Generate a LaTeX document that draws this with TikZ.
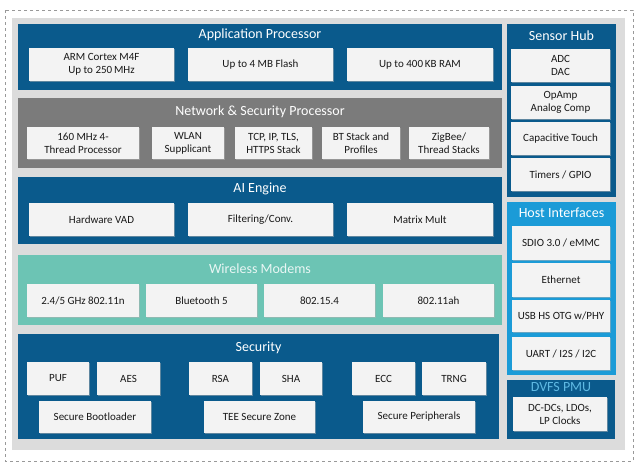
\documentclass[tikz,border=0pt]{standalone}
\usepackage{fontspec}
\setmainfont{Carlito}
\usepackage{tikz}
\usetikzlibrary{shadows}

\definecolor{darkblue}{HTML}{0A5A8C}
\definecolor{nspgray}{HTML}{7B7B7B}
\definecolor{teal}{HTML}{6CC4B4}
\definecolor{hostblue}{HTML}{1B9BD7}
\definecolor{bggray}{HTML}{DCDCDC}
\definecolor{boxgray}{HTML}{F3F3F3}

\begin{document}
\begin{tikzpicture}[x=1pt, y=-1pt,
    block/.style={rectangle, inner sep=0pt},
    title/.style={text=white, font=\fontsize{14}{15}\selectfont},
    unit/.style={rectangle, fill=boxgray, inner sep=0pt, align=center,
        text=black!90, font=\fontsize{11}{13}\selectfont,
        drop shadow={shadow xshift=1pt, shadow yshift=-1pt, fill=black!30}}]
    \useasboundingbox (0,0) rectangle (640,467);
    % frame and background
    \draw[black!40, dashed, line width=0.8pt] (5,10) rectangle (633,461);
    \fill[bggray] (12,18) rectangle (625,450);
    % application processor
    \node[block, fill=darkblue, minimum width=484, minimum height=66] (ap) at (260,57) {};
    \node[title] (apt) at (260,35) {Application Processor};
    \node[unit, minimum width=145, minimum height=33] (arm) at (101.5,64.5) {ARM Cortex M4F\\Up to 250\,MHz};
    \node[unit, minimum width=145, minimum height=33] (flash) at (260.5,64.5) {Up to 4 MB Flash};
    \node[unit, minimum width=146, minimum height=33] (ram) at (420,64.5) {Up to 400\,KB RAM};
    % network & security processor
    \node[block, fill=nspgray, minimum width=484, minimum height=70] (nsp) at (260,133) {};
    \node[title] (nspt) at (260,112) {Network \& Security Processor};
    \node[unit, minimum width=112, minimum height=32] (nthr) at (83,143) {160 MHz 4-\\Thread Processor};
    \node[unit, minimum width=72, minimum height=32] (wlan) at (188,143) {WLAN\\Supplicant};
    \node[unit, minimum width=77, minimum height=32] (tcp) at (273.5,143) {TCP, IP, TLS,\\HTTPS Stack};
    \node[unit, minimum width=78, minimum height=32] (bt) at (361,143) {BT Stack and\\Profiles};
    \node[unit, minimum width=80, minimum height=32] (zig) at (449,143) {ZigBee/\\Thread Stacks};
    % AI engine
    \node[block, fill=darkblue, minimum width=484, minimum height=67] (ai) at (260,210.5) {};
    \node[title] (ait) at (260,189) {AI Engine};
    \node[unit, minimum width=145, minimum height=33] (vad) at (101.5,219.5) {Hardware VAD};
    \node[unit, minimum width=145, minimum height=33] (filt) at (260.5,219.5) {Filtering/Conv.};
    \node[unit, minimum width=146, minimum height=33] (mat) at (420,219.5) {Matrix Mult};
    % wireless modems
    \node[block, fill=teal, minimum width=484, minimum height=70] (wm) at (260,290) {};
    \node[title, text=white!85!teal] (wmt) at (260,269) {Wireless Modems};
    \node[unit, minimum width=112, minimum height=33] (wifi) at (83,300.5) {2.4/5 GHz 802.11n};
    \node[unit, minimum width=111, minimum height=33] (bt5) at (201.5,300.5) {Bluetooth 5};
    \node[unit, minimum width=111, minimum height=33] (zb) at (319.5,300.5) {802.15.4};
    \node[unit, minimum width=111, minimum height=33] (hlow) at (438.5,300.5) {802.11ah};
    % security
    \node[block, fill=darkblue, minimum width=481, minimum height=105] (sec) at (258.5,386.5) {};
    \node[title] (sect) at (258.5,348) {Security};
    \node[unit, minimum width=62, minimum height=33] (puf) at (58,378.5) {PUF};
    \node[unit, minimum width=63, minimum height=33] (aes) at (128.5,378.5) {AES};
    \node[unit, minimum width=63, minimum height=33] (rsa) at (220.5,378.5) {RSA};
    \node[unit, minimum width=62, minimum height=33] (sha) at (291,378.5) {SHA};
    \node[unit, minimum width=63, minimum height=33] (ecc) at (383.5,378.5) {ECC};
    \node[unit, minimum width=64, minimum height=33] (trng) at (454,378.5) {TRNG};
    \node[unit, minimum width=112, minimum height=32] (boot) at (95,417) {Secure Bootloader};
    \node[unit, minimum width=111, minimum height=32] (tee) at (259.5,417) {TEE Secure Zone};
    \node[unit, minimum width=112, minimum height=32] (sper) at (419,417) {Secure Peripherals};
    % sensor hub
    \node[block, fill=darkblue, minimum width=109, minimum height=173] (sh) at (561.5,110.5) {};
    \node[title] (sht) at (561.5,36) {Sensor Hub};
    \node[unit, minimum width=99, minimum height=33] (adc) at (560.5,65.5) {ADC\\DAC};
    \node[unit, minimum width=99, minimum height=33] (opa) at (560.5,102.5) {OpAmp\\Analog Comp};
    \node[unit, minimum width=99, minimum height=33] (cap) at (560.5,138.5) {Capacitive Touch};
    \node[unit, minimum width=99, minimum height=33] (tim) at (560.5,174.5) {Timers / GPIO};
    % host interfaces
    \node[block, fill=hostblue, minimum width=109, minimum height=173] (hi) at (561.5,288.5) {};
    \node[title] (hit) at (561.5,213) {Host Interfaces};
    \node[unit, minimum width=98, minimum height=34] (sdio) at (561,243) {SDIO 3.0 / eMMC};
    \node[unit, minimum width=98, minimum height=34] (eth) at (561,280) {Ethernet};
    \node[unit, minimum width=98, minimum height=32] (usb) at (561,316) {USB HS OTG w/PHY};
    \node[unit, minimum width=98, minimum height=33] (uart) at (561,353.5) {UART / I2S / I2C};
    % dvfs pmu
    \node[block, fill=darkblue, minimum width=108, minimum height=59] (pmu) at (561,409.5) {};
    \node[title, text=hostblue!70!white] (pmut) at (561,387) {DVFS PMU};
    \node[unit, minimum width=94, minimum height=34] (dcdc) at (560,414) {DC-DCs, LDOs,\\LP Clocks};
\end{tikzpicture}
\end{document}
